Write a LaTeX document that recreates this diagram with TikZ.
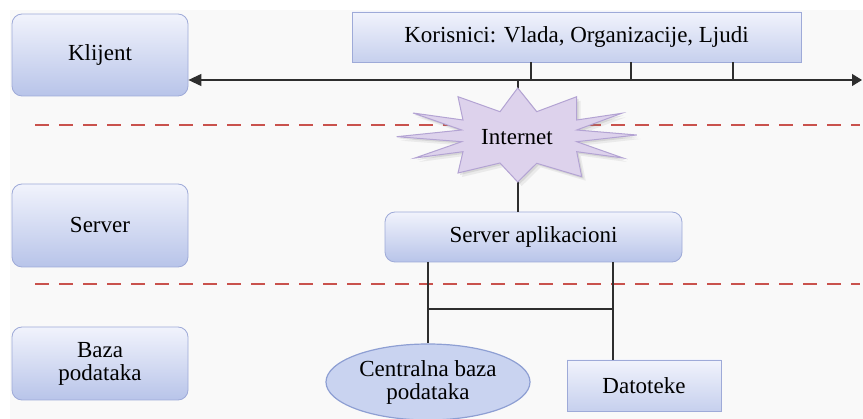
\documentclass[tikz,border=0pt]{standalone}
\usepackage{fontspec}
\setmainfont{Liberation Serif}
\newfontfamily\dserif{Liberation Serif}
\usetikzlibrary{arrows.meta,shapes.geometric}
\definecolor{bgc}{HTML}{F9F9F9}
\definecolor{boxtop}{HTML}{F1F3FC}
\definecolor{boxbot}{HTML}{B8C4E9}
\definecolor{boxline}{HTML}{9EAAD8}
\definecolor{redd}{HTML}{C9524D}
\definecolor{starfill}{HTML}{DDD2EC}
\definecolor{starline}{HTML}{B3A3D3}
\definecolor{ellfill}{HTML}{C9D3F0}
\definecolor{ellline}{HTML}{8E9FD3}
\definecolor{linec}{HTML}{2E2E2E}
\tikzset{
  lbl/.style={font=\dserif\fontsize{23}{25}\selectfont, text=black, align=center},
  rbox/.style={lbl, draw=boxline, line width=0.8pt, rounded corners=10pt, top color=boxtop, bottom color=boxbot, inner sep=0pt},
  sbox/.style={lbl, draw=boxline, line width=0.8pt, top color=boxtop, bottom color=boxbot!80!white, inner sep=0pt},
  sep/.style={redd, line width=2.5pt, dash pattern=on 14pt off 10pt},
  conn/.style={linec, line width=1.2pt},
}
\begin{document}
\begin{tikzpicture}[x=1pt,y=-1pt]
\useasboundingbox (0,0) rectangle (863,419);
\fill[bgc] (10,10) rectangle (863,419);
% separators
\draw[sep] (35,125) -- (860,125);
\draw[sep] (35,284) -- (860,284);
% left layer boxes
\node[rbox, minimum width=176pt, minimum height=82pt] (kl) at (100,55) {Klijent};
\node[rbox, minimum width=176pt, minimum height=83pt] (sv) at (100,225.5) {Server};
\node[rbox, minimum width=176pt, minimum height=73pt] (bp) at (100,363.5) {Baza\\[-2pt]podataka};
% users box
\node[sbox, minimum width=449pt, minimum height=50pt] (kor) at (576.5,37) {Korisnici: Vlada, Organizacije, Ljudi};
% bus
\coordinate (busR) at (862,80);
\coordinate (bi) at (518,80);
\draw[conn, {Triangle[length=13pt,width=12pt]}-{Triangle[length=10pt,width=12pt]}] (kl.east |- busR) -- (busR);
\foreach \x/\n in {531/t1,631/t2,733/t3} {
  \coordinate (\n) at (\x,80);
  \draw[conn] (kor.south -| \n) -- (\n);
}
% server app
\node[rbox, minimum width=297pt, minimum height=50pt] (srv) at (533.5,237) {Server aplikacioni};
\draw[conn] (bi) -- (bi |- srv.north);
% starburst
\def\starpath{(517.7,88) -- (536.7,111.7) -- (576.7,96.7) -- (576.7,120) -- (621.7,113.3) -- (576.7,130)
 -- (636.7,135) -- (576.7,141.7) -- (623,158) -- (576.7,151.7) -- (581.7,176.7) -- (536.7,163.3)
 -- (517.7,182) -- (500,163) -- (458,173) -- (463,151.7) -- (415,158) -- (461.7,141.7)
 -- (396.7,136.7) -- (461.7,130) -- (413,113) -- (463,120) -- (458,96.7) -- (500,111.7) -- cycle}
\fill[gray, opacity=0.12, shift={(4,4)}] \starpath;
\fill[gray, opacity=0.18, shift={(2,2)}] \starpath;
\fill[starfill, draw=starline, line width=1pt, line join=miter] \starpath;
\node[lbl, inner sep=1pt] (inet) at (517,137) {Internet};
% database layer
\node[ellipse, lbl, draw=ellline, line width=1.2pt, fill=ellfill, minimum width=204pt, minimum height=76pt, inner sep=0pt] (ell) at (428,382) {Centralna baza\\[-2pt]podataka};
\node[sbox, minimum width=154pt, minimum height=51pt] (dat) at (644,385.5) {Datoteke};
\coordinate (jl) at (428,309);
\coordinate (jr) at (613,309);
\draw[conn] (srv.south -| jl) -- (ell.north);
\draw[conn] (srv.south -| jr) -- (dat.north -| jr);
\draw[conn] (jl) -- (jr);
\end{tikzpicture}
\end{document}
